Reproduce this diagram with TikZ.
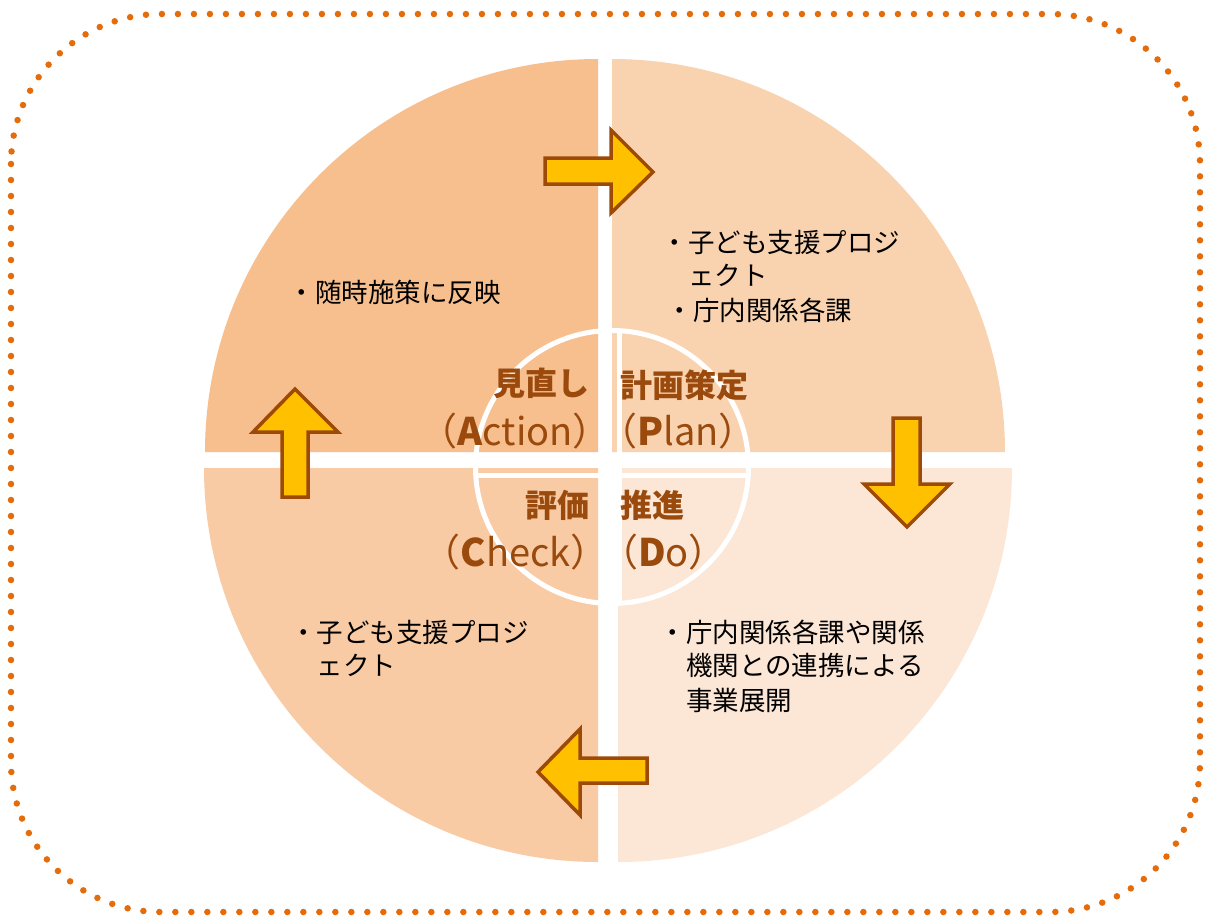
\documentclass[tikz,border=0pt]{standalone}
\usepackage{fontspec}
\newfontfamily\jp{Noto Sans CJK JP}
\definecolor{cTL}{HTML}{F7BE8E}
\definecolor{cTR}{HTML}{F9D3B0}
\definecolor{cBL}{HTML}{F8CBA5}
\definecolor{cBR}{HTML}{FCE6D6}
\definecolor{arrowfill}{HTML}{FFC000}
\definecolor{arrowline}{HTML}{9C4A06}
\definecolor{labc}{HTML}{9A4A0C}
\definecolor{borderc}{HTML}{E46C0A}
\begin{document}
\begin{tikzpicture}[x=1pt,y=-1pt,
  arrowshape/.style={fill=arrowfill, draw=arrowline, line width=3.5pt, line join=miter},
  body/.style={font=\jp\fontsize{26.5}{34}\selectfont, inner sep=0pt, anchor=base west, text=black},
  lab/.style={font=\jp\bfseries\fontsize{32}{38}\selectfont, inner sep=0pt, text=labc},
  sub/.style={font=\jp\fontsize{38}{44}\selectfont, inner sep=0pt, text=labc},
  ring/.style={draw=white, line width=5pt},
  dotted border/.style={draw=borderc, line width=6.5pt, line cap=round, dash pattern=on 0pt off 16pt, rounded corners=150pt}
]
\path[fill=white] (0,0) rectangle (1211,922);
% quadrants
\fill[cTL] (598,452) -- ++(-393pt,0pt) arc[start angle=180,end angle=90,radius=393pt] -- cycle;
\fill[cTR] (612,452) -- ++(0pt,393pt) arc[start angle=90,end angle=0,radius=393pt] -- cycle;
\fill[cBL] (598,468) -- ++(-394pt,0pt) arc[start angle=180,end angle=270,radius=394pt] -- cycle;
\fill[cBR] (618,468) -- ++(394pt,0pt) arc[start angle=0,end angle=-90,radius=394pt] -- cycle;
% inner circle
\draw[ring] (612,467) circle[radius=136.5pt];
\draw[ring] (619,330.5) -- (619,603.5);
\draw[ring] (475.8,475.5) -- (748.2,475.5);
% arrows
\draw[arrowshape] (545,158) -- (611,158) -- (611,130) -- (653,172) -- (611,213) -- (611,184) -- (545,184) -- cycle;
\draw[arrowshape] (893,418) -- (920,418) -- (920,484) -- (950,484) -- (907,527) -- (864,484) -- (893,484) -- cycle;
\draw[arrowshape] (647,758) -- (580,758) -- (580,729) -- (538,772) -- (580,815) -- (580,783) -- (647,783) -- cycle;
\draw[arrowshape] (282,497) -- (282,432) -- (253,432) -- (295,389) -- (338,432) -- (308,432) -- (308,497) -- cycle;
% centre labels
\node[lab, anchor=base east] (act) at (590,395) {見直し};
\node[sub, anchor=base east] (actE) at (611,445) {（{\bfseries A}ction）};
\node[lab, anchor=base west] (plan) at (620,397) {計画策定};
\node[sub, anchor=base west] (planE) at (599,445) {（{\bfseries P}lan）};
\node[lab, anchor=base east] (chk) at (590,517) {評価};
\node[sub, anchor=base east] (chkE) at (609,566) {（{\bfseries C}heck）};
\node[lab, anchor=base west] (do) at (620,517) {推進};
\node[sub, anchor=base west] (doE) at (600,566) {（{\bfseries D}o）};
% body texts
\node[body] (tl1) at (288.5,302) {・随時施策に反映};
\node[body] (tr1) at (661.5,252) {・子ども支援プロジ};
\node[body] (tr2) at (688,285) {ェクト};
\node[body] (tr3) at (666.5,320) {・庁内関係各課};
\node[body] (bl1) at (290,642) {・子ども支援プロジ};
\node[body] (bl2) at (316.5,675) {ェクト};
\node[body] (br1) at (659.5,642) {・庁内関係各課や関係};
\node[body] (br2) at (686,675) {機関との連携による};
\node[body] (br3) at (686,710) {事業展開};
% dotted frame
\draw[dotted border] (11,14) rectangle (1200,912);
\end{tikzpicture}
\end{document}
